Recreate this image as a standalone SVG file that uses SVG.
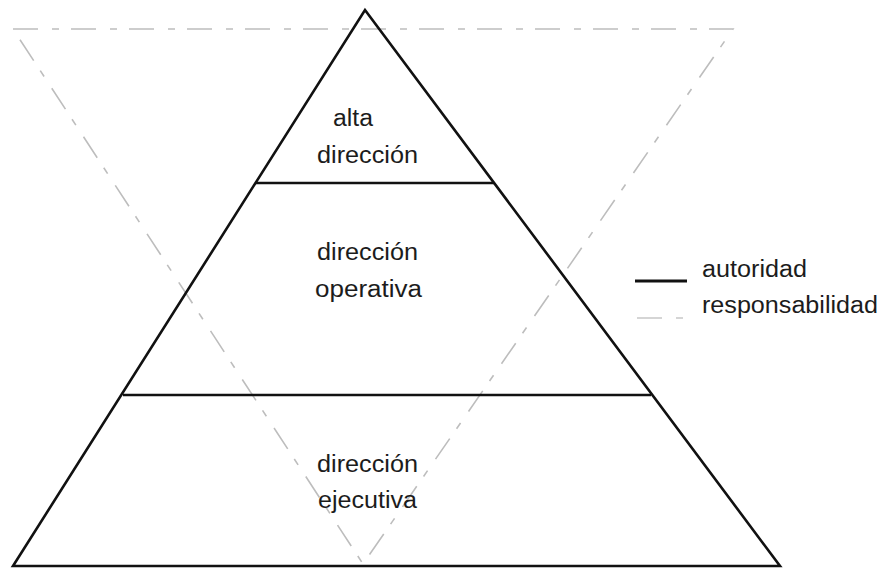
<svg xmlns="http://www.w3.org/2000/svg" width="883" height="568" viewBox="0 0 883 568">
  <style>
    .solid { fill: none; stroke: #111; stroke-width: 2.6; stroke-linejoin: miter; }
    .dash { fill: none; stroke: #bdbdbd; stroke-width: 1.6; stroke-dasharray: 25 14 7 12; }
    .lbl { font-family: "Liberation Sans", Arial, sans-serif; font-size: 23px; fill: #1c1c1c; }
  </style>
  <rect width="883" height="568" fill="#fff"/>

  <!-- inverted triangle: responsibility -->
  <g id="responsabilidad-triangle">
    <path class="dash" d="M13,29 L733,29 L363,564 Z"/>
  </g>

  <!-- pyramid: authority -->
  <g id="autoridad-pyramid">
    <path class="solid" d="M365,10 L780,566 L13,566 Z"/>
  </g>

  <g id="connectors">
    <line class="solid" x1="255" y1="183" x2="494" y2="183"/>
    <line class="solid" x1="123" y1="395" x2="651" y2="395"/>
  </g>

  <g id="alta-direccion">
    <text class="lbl" x="333" y="126" textLength="40" lengthAdjust="spacingAndGlyphs">alta</text>
    <text class="lbl" x="317" y="163" textLength="101" lengthAdjust="spacingAndGlyphs">dirección</text>
  </g>

  <g id="direccion-operativa">
    <text class="lbl" x="317" y="260" textLength="101" lengthAdjust="spacingAndGlyphs">dirección</text>
    <text class="lbl" x="315" y="297" textLength="107" lengthAdjust="spacingAndGlyphs">operativa</text>
  </g>

  <g id="direccion-ejecutiva">
    <text class="lbl" x="317" y="472" textLength="101" lengthAdjust="spacingAndGlyphs">dirección</text>
    <text class="lbl" x="318" y="508" textLength="99" lengthAdjust="spacingAndGlyphs">ejecutiva</text>
  </g>

  <g id="legend">
    <line x1="635" y1="281" x2="687" y2="281" stroke="#111" stroke-width="3"/>
    <text class="lbl" x="702" y="277" textLength="105" lengthAdjust="spacingAndGlyphs">autoridad</text>
    <line x1="637" y1="318" x2="683" y2="318" stroke="#c8c8c8" stroke-width="1.5" stroke-dasharray="25 14 7 12"/>
    <text class="lbl" x="702" y="313" textLength="176" lengthAdjust="spacingAndGlyphs">responsabilidad</text>
  </g>
</svg>
